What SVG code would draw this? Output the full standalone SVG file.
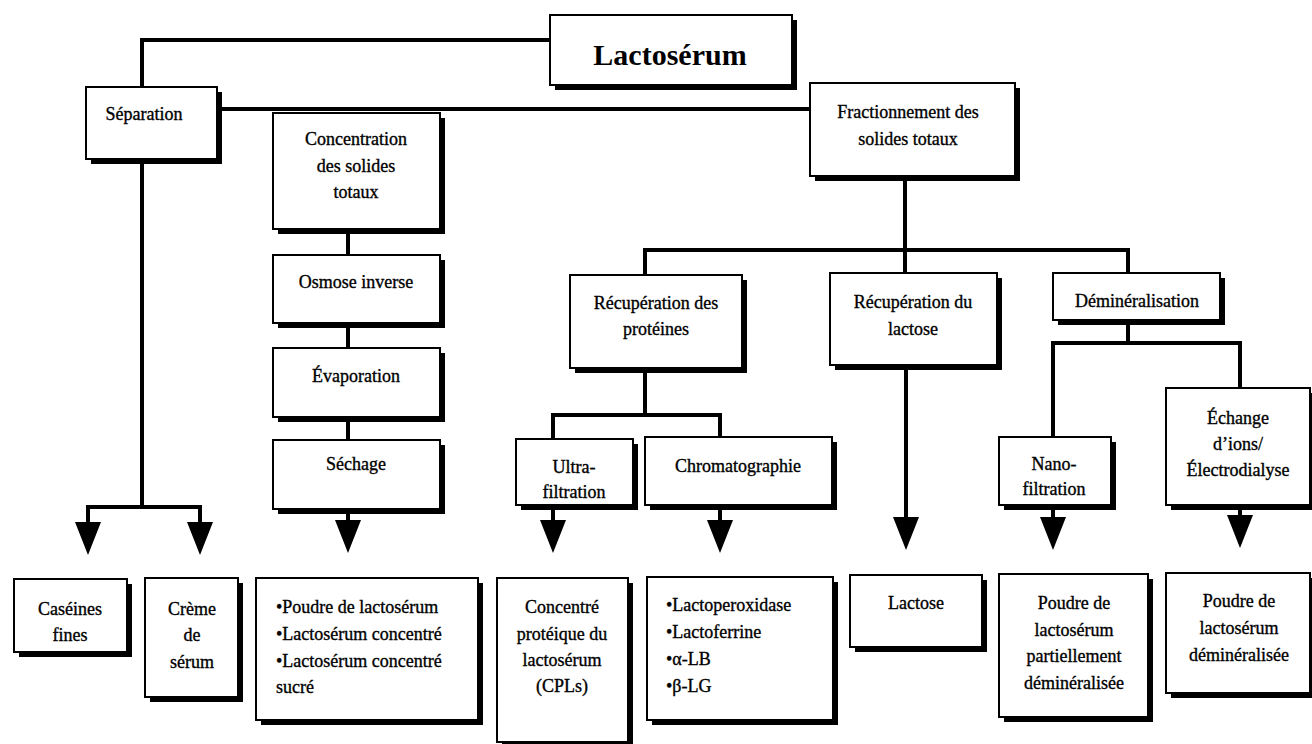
<svg xmlns="http://www.w3.org/2000/svg" width="1312" height="744" viewBox="0 0 1312 744">
  <style>
    .sh { fill: #000; }
    .box { fill: #fff; stroke: #000; stroke-width: 2; }
    .t { font-family: "Liberation Serif", "Times New Roman", serif; font-size: 18px; fill: #000; stroke: #000; stroke-width: 0.35; }
    .c { text-anchor: middle; }
    .title { font-family: "Liberation Serif", "Times New Roman", serif; font-size: 30px; font-weight: bold; text-anchor: middle; }
    .ln { fill: none; stroke: #000; stroke-width: 4; stroke-linejoin: miter; stroke-linecap: square; }
    .ah { fill: #000; }
  </style>
  <defs>
    <!-- downward arrowhead, tip at origin -->
    <path id="head" d="M-13,-33 L13,-33 L0,0 Z"/>
  </defs>
  <rect width="1312" height="744" fill="#fff"/>

  <!-- connectors -->
  <g id="connectors">
    <polyline class="ln" points="550,40 142,40 142,87"/>
    <polyline class="ln" points="217,109 810,109"/>
    <polyline class="ln" points="142,164 142,507"/>
    <polyline class="ln" points="88,522 88,507 200,507 200,522"/>
    <use href="#head" class="ah" x="88" y="555"/>
    <use href="#head" class="ah" x="200" y="555"/>

    <line class="ln" x1="348" y1="234" x2="348" y2="255"/>
    <line class="ln" x1="348" y1="328" x2="348" y2="348"/>
    <line class="ln" x1="348" y1="422" x2="348" y2="440"/>
    <line class="ln" x1="348" y1="514" x2="348" y2="521"/>
    <use href="#head" class="ah" x="348" y="553"/>

    <line class="ln" x1="905" y1="181" x2="905" y2="250"/>
    <polyline class="ln" points="645,275 645,250 1128,250 1128,273"/>
    <line class="ln" x1="905" y1="250" x2="905" y2="273"/>

    <line class="ln" x1="645" y1="373" x2="645" y2="415"/>
    <polyline class="ln" points="553,439 553,415 720,415 720,437"/>
    <line class="ln" x1="553" y1="510" x2="553" y2="520"/>
    <use href="#head" class="ah" x="553" y="553"/>
    <line class="ln" x1="720" y1="510" x2="720" y2="520"/>
    <use href="#head" class="ah" x="720" y="553"/>

    <line class="ln" x1="906" y1="370" x2="906" y2="518"/>
    <use href="#head" class="ah" x="906" y="550"/>

    <line class="ln" x1="1128" y1="325" x2="1128" y2="343"/>
    <polyline class="ln" points="1053,437 1053,343 1240,343 1240,388"/>
    <line class="ln" x1="1053" y1="510" x2="1053" y2="518"/>
    <use href="#head" class="ah" x="1053" y="550"/>
    <line class="ln" x1="1240" y1="510" x2="1240" y2="516"/>
    <use href="#head" class="ah" x="1240" y="548"/>
  </g>

  <g id="lactoserum">
    <rect class="sh" x="555" y="20" width="242" height="70"/>
    <rect class="box" x="550" y="15" width="242" height="70"/>
    <text class="title" x="670" y="65">Lactosérum</text>
  </g>

  <g id="separation">
    <rect class="sh" x="91" y="92" width="131" height="72"/>
    <rect class="box" x="86" y="87" width="131" height="72"/>
    <text class="t c" x="144" y="120">Séparation</text>
  </g>

  <g id="concentration">
    <rect class="sh" x="278" y="118" width="167" height="116"/>
    <rect class="box" x="273" y="113" width="167" height="116"/>
    <text class="t c" x="356" y="145">Concentration</text>
    <text class="t c" x="356" y="172">des solides</text>
    <text class="t c" x="356" y="198">totaux</text>
  </g>

  <g id="osmose">
    <rect class="sh" x="278" y="260" width="167" height="68"/>
    <rect class="box" x="273" y="255" width="167" height="68"/>
    <text class="t c" x="356" y="288">Osmose inverse</text>
  </g>

  <g id="evaporation">
    <rect class="sh" x="278" y="353" width="167" height="69"/>
    <rect class="box" x="273" y="348" width="167" height="69"/>
    <text class="t c" x="356" y="382">Évaporation</text>
  </g>

  <g id="sechage">
    <rect class="sh" x="278" y="445" width="167" height="69"/>
    <rect class="box" x="273" y="440" width="167" height="69"/>
    <text class="t c" x="356" y="470">Séchage</text>
  </g>

  <g id="fractionnement">
    <rect class="sh" x="815" y="88" width="205" height="93"/>
    <rect class="box" x="810" y="83" width="205" height="93"/>
    <text class="t c" x="908" y="118">Fractionnement des</text>
    <text class="t c" x="908" y="145">solides totaux</text>
  </g>

  <g id="recup-proteines">
    <rect class="sh" x="575" y="280" width="172" height="93"/>
    <rect class="box" x="570" y="275" width="172" height="93"/>
    <text class="t c" x="656" y="309">Récupération des</text>
    <text class="t c" x="656" y="335">protéines</text>
  </g>

  <g id="recup-lactose">
    <rect class="sh" x="835" y="278" width="167" height="92"/>
    <rect class="box" x="830" y="273" width="167" height="92"/>
    <text class="t c" x="913" y="308">Récupération du</text>
    <text class="t c" x="913" y="335">lactose</text>
  </g>

  <g id="demineralisation">
    <rect class="sh" x="1058" y="278" width="167" height="47"/>
    <rect class="box" x="1053" y="273" width="167" height="47"/>
    <text class="t c" x="1137" y="307">Déminéralisation</text>
  </g>

  <g id="ultrafiltration">
    <rect class="sh" x="521" y="444" width="117" height="66"/>
    <rect class="box" x="516" y="439" width="117" height="66"/>
    <text class="t c" x="574" y="473">Ultra-</text>
    <text class="t c" x="574" y="498">filtration</text>
  </g>

  <g id="chromatographie">
    <rect class="sh" x="650" y="442" width="187" height="68"/>
    <rect class="box" x="645" y="437" width="187" height="68"/>
    <text class="t c" x="738" y="472">Chromatographie</text>
  </g>

  <g id="nanofiltration">
    <rect class="sh" x="1004" y="442" width="112" height="68"/>
    <rect class="box" x="999" y="437" width="112" height="68"/>
    <text class="t c" x="1054" y="470">Nano-</text>
    <text class="t c" x="1054" y="495">filtration</text>
  </g>

  <g id="echange">
    <rect class="sh" x="1171" y="393" width="144" height="117"/>
    <rect class="box" x="1166" y="388" width="144" height="117"/>
    <text class="t c" x="1238" y="424">Échange</text>
    <text class="t c" x="1238" y="450">d’ions/</text>
    <text class="t c" x="1238" y="476">Électrodialyse</text>
  </g>

  <g id="caseines">
    <rect class="sh" x="19" y="584" width="113" height="73"/>
    <rect class="box" x="14" y="579" width="113" height="73"/>
    <text class="t c" x="70" y="615">Caséines</text>
    <text class="t c" x="70" y="641">fines</text>
  </g>

  <g id="creme">
    <rect class="sh" x="150" y="583" width="93" height="119"/>
    <rect class="box" x="145" y="578" width="93" height="119"/>
    <text class="t c" x="192" y="615">Crème</text>
    <text class="t c" x="192" y="641">de</text>
    <text class="t c" x="192" y="668">sérum</text>
  </g>

  <g id="poudres">
    <rect class="sh" x="261" y="583" width="222" height="142"/>
    <rect class="box" x="256" y="578" width="222" height="142"/>
    <text class="t" x="276" y="613">•Poudre de lactosérum</text>
    <text class="t" x="276" y="640">•Lactosérum concentré</text>
    <text class="t" x="276" y="667">•Lactosérum concentré</text>
    <text class="t" x="276" y="693">sucré</text>
  </g>

  <g id="cpl">
    <rect class="sh" x="502" y="583" width="131" height="164"/>
    <rect class="box" x="497" y="578" width="131" height="164"/>
    <text class="t c" x="562" y="613">Concentré</text>
    <text class="t c" x="562" y="640">protéique du</text>
    <text class="t c" x="562" y="666">lactosérum</text>
    <text class="t c" x="562" y="692">(CPLs)</text>
  </g>

  <g id="fractions-proteiques">
    <rect class="sh" x="652" y="582" width="186" height="143"/>
    <rect class="box" x="647" y="577" width="186" height="143"/>
    <text class="t" x="666" y="611">•Lactoperoxidase</text>
    <text class="t" x="666" y="638">•Lactoferrine</text>
    <text class="t" x="666" y="665">•α-LB</text>
    <text class="t" x="666" y="692">•β-LG</text>
  </g>

  <g id="lactose">
    <rect class="sh" x="855" y="580" width="132" height="72"/>
    <rect class="box" x="850" y="575" width="132" height="72"/>
    <text class="t c" x="916" y="609">Lactose</text>
  </g>

  <g id="poudre-partielle">
    <rect class="sh" x="1004" y="579" width="149" height="143"/>
    <rect class="box" x="999" y="574" width="149" height="143"/>
    <text class="t c" x="1074" y="609">Poudre de</text>
    <text class="t c" x="1074" y="636">lactosérum</text>
    <text class="t c" x="1074" y="662">partiellement</text>
    <text class="t c" x="1074" y="689">déminéralisée</text>
  </g>

  <g id="poudre-demineralisee">
    <rect class="sh" x="1171" y="578" width="144" height="120"/>
    <rect class="box" x="1166" y="573" width="144" height="120"/>
    <text class="t c" x="1239" y="607">Poudre de</text>
    <text class="t c" x="1239" y="634">lactosérum</text>
    <text class="t c" x="1239" y="661">déminéralisée</text>
  </g>
</svg>
